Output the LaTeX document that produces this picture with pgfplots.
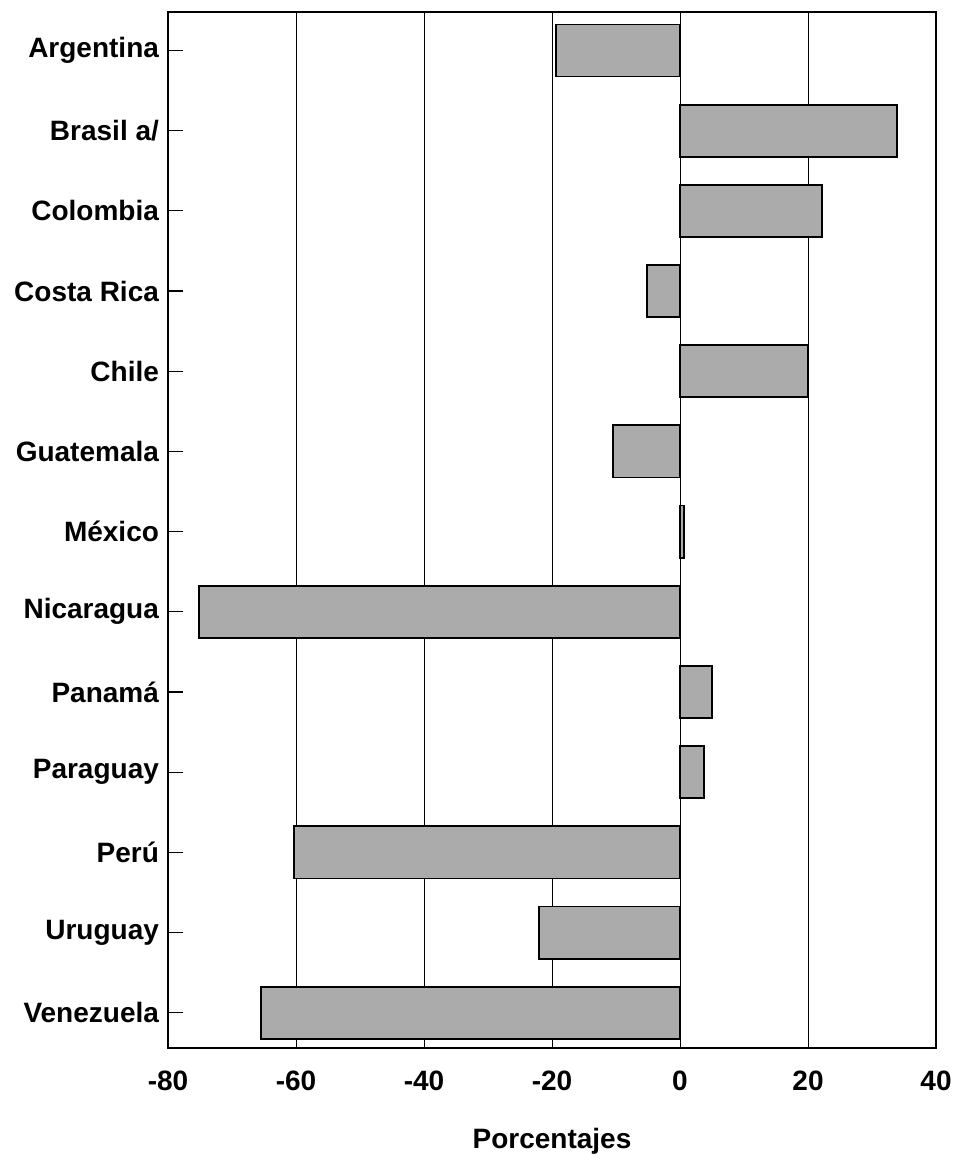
\documentclass[border=0pt]{standalone}
\usepackage{fontspec}
\setmainfont{Liberation Sans}
\usepackage{pgfplots}
\pgfplotsset{compat=1.18}
\begin{document}
\begin{tikzpicture}
\useasboundingbox (-84pt,-55.5pt) rectangle (394pt,524pt);
\begin{axis}[
  at={(0,0)}, anchor=south west,
  scale only axis,
  width=384pt, height=518pt,
  xbar, bar width=0.65,
  xmin=-80, xmax=40,
  ymin=-0.48, ymax=12.44,
  y dir=reverse,
  xtick={-80,-60,-40,-20,0,20,40},
  ytick={0,...,12},
  yticklabels={Argentina,Brasil a/,Colombia,Costa Rica,Chile,Guatemala,México,Nicaragua,Panamá,Paraguay,Perú,Uruguay,Venezuela},
  ytick pos=left,
  tick align=inside,
  major tick length=7.5pt,
  xtick style={draw=none},
  ytick style={black, line width=0.6pt},
  xmajorgrids,
  grid style={black, line width=0.5pt},
  axis line style={black, line width=0.8pt},
  tick label style={font=\bfseries\fontsize{14}{16}\selectfont},
  /pgf/number format/assume math mode=true,
  xticklabel style={yshift=-8pt},
  yticklabel style={xshift=-1pt},
  xlabel={Porcentajes},
  xlabel style={font=\bfseries\fontsize{14}{16}\selectfont, yshift=-12pt},
]
\addplot[fill=black!33, draw=black, line width=0.9pt] coordinates {
  (-19.4,0) (33.9,1) (22.2,2) (-5.2,3) (20.0,4) (-10.5,5) (0.6,6)
  (-75.2,7) (5.0,8) (3.7,9) (-60.3,10) (-22.0,11) (-65.5,12)
};
\end{axis}
\end{tikzpicture}
\end{document}
